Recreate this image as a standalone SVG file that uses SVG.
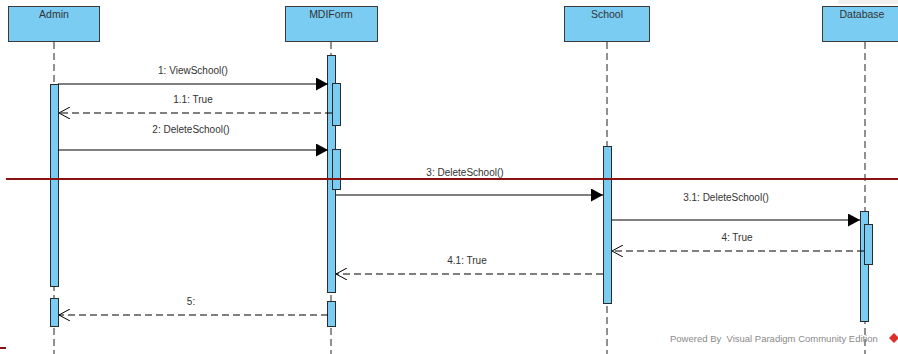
<svg xmlns="http://www.w3.org/2000/svg" width="898" height="354" viewBox="0 0 898 354">
<defs>
<style>
.box{fill:#7ACCF2;stroke:#3a3a3a;stroke-width:1}
.bar{fill:#7ACCF2;stroke:#2a2a2a;stroke-width:1}
.life{stroke:#222;stroke-width:1;stroke-dasharray:7,4;fill:none}
.msg{stroke:#000;stroke-width:1;fill:none}
.ret{stroke:#000;stroke-width:1;fill:none;stroke-dasharray:7,4}
.t{font-family:"Liberation Sans",Arial,sans-serif;font-size:10px;fill:#333;text-anchor:middle}
.h{font-family:"Liberation Sans",Arial,sans-serif;font-size:10.5px;fill:#333;text-anchor:middle}
</style>
<marker id="sync" markerWidth="13" markerHeight="13" refX="12" refY="6.5" orient="auto" markerUnits="userSpaceOnUse">
<path d="M0,0 L12,6.5 L0,13 Z" fill="#000"/>
</marker>
<marker id="open" markerWidth="14" markerHeight="12" refX="12" refY="6" orient="auto" markerUnits="userSpaceOnUse">
<path d="M1,0 L12,6 L1,12" fill="none" stroke="#000" stroke-width="1"/>
</marker>
</defs>
<rect x="0" y="0" width="898" height="354" fill="#fff"/>
<rect x="838" y="0" width="60" height="4" fill="#f0f0f0"/>

<g id="lifelines">
<line class="life" x1="54" y1="42" x2="54" y2="354"/>
<line class="life" x1="331" y1="42" x2="331" y2="354"/>
<line class="life" x1="607" y1="42" x2="607" y2="354"/>
<line class="life" x1="865" y1="42" x2="865" y2="354"/>
</g>

<g id="admin">
<rect class="box" x="8.5" y="6.5" width="91" height="35"/>
<text class="h" x="54" y="18">Admin</text>
<rect class="bar" x="50.5" y="84.5" width="8" height="202"/>
<rect class="bar" x="50.5" y="298.5" width="8" height="28"/>
</g>

<g id="mdiform">
<rect class="box" x="285.5" y="6.5" width="92" height="35"/>
<text class="h" x="331" y="18">MDIForm</text>
<rect class="bar" x="327.5" y="55.5" width="8" height="237"/>
<rect class="bar" x="332.5" y="83.5" width="8" height="42"/>
<rect class="bar" x="332.5" y="149.5" width="8" height="40"/>
<rect class="bar" x="327.5" y="301.5" width="8" height="25"/>
</g>

<g id="school">
<rect class="box" x="564.5" y="6.5" width="85" height="35"/>
<text class="h" x="607" y="18">School</text>
<rect class="bar" x="603.5" y="146.5" width="8" height="157"/>
</g>

<g id="database">
<rect class="box" x="822.5" y="6.5" width="80" height="35"/>
<text class="h" x="862" y="18">Database</text>
<rect class="bar" x="860.5" y="211.5" width="8" height="110"/>
<rect class="bar" x="864.5" y="224.5" width="8" height="40"/>
</g>

<g id="connectors">
<line class="msg" x1="58" y1="84" x2="328" y2="84" marker-end="url(#sync)"/>
<text class="t" x="193" y="74">1: ViewSchool()</text>
<line class="ret" x1="332" y1="113" x2="59" y2="113" marker-end="url(#open)"/>
<text class="t" x="193" y="103">1.1: True</text>
<line class="msg" x1="58" y1="150" x2="328" y2="150" marker-end="url(#sync)"/>
<text class="t" x="191" y="133">2: DeleteSchool()</text>
<line class="msg" x1="336" y1="195" x2="603" y2="195" marker-end="url(#sync)"/>
<text class="t" x="465" y="176">3: DeleteSchool()</text>
<line class="msg" x1="612" y1="220" x2="860" y2="220" marker-end="url(#sync)"/>
<text class="t" x="726" y="201">3.1: DeleteSchool()</text>
<line class="ret" x1="864" y1="251" x2="612" y2="251" marker-end="url(#open)"/>
<text class="t" x="737" y="241">4: True</text>
<line class="ret" x1="603" y1="274" x2="336" y2="274" marker-end="url(#open)"/>
<text class="t" x="467" y="264">4.1: True</text>
<line class="ret" x1="328" y1="315" x2="59" y2="315" marker-end="url(#open)"/>
<text class="t" x="191" y="305">5:</text>
</g>

<g id="page-break">
<line x1="6" y1="179" x2="898" y2="179" stroke="#8B1010" stroke-width="2"/>
<line x1="0" y1="348" x2="6" y2="348" stroke="#8B1010" stroke-width="2"/>
</g>

<g id="watermark">
<text x="670" y="342" font-family="Liberation Sans,Arial,sans-serif" font-size="9.5px" fill="#8a8a8a" xml:space="preserve">Powered By  Visual Paradigm Community Edition</text>
<path d="M894,333 L899,338 L894,343 L889,338 Z" fill="#d9302c"/>
</g>
</svg>
